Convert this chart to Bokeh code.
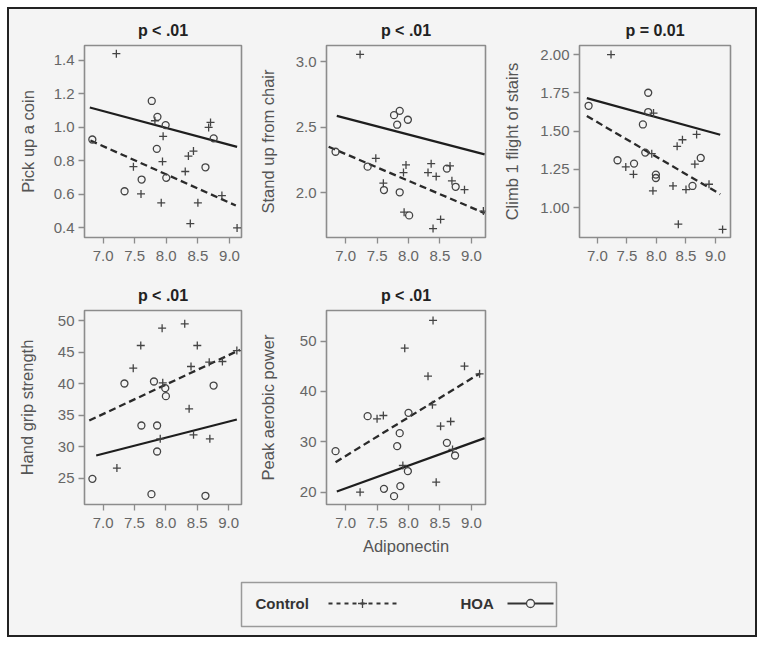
from bokeh.plotting import figure
from bokeh.layouts import row, column
from bokeh.models import Range1d, FixedTicker, Spacer, Title
from bokeh.core.properties import value
from bokeh.embed import file_html
from bokeh.resources import INLINE

FONT = "Liberation Sans"
BG = "#f4f4f4"

# ---------------- data ----------------
x_ticks = [7.0, 7.5, 8.0, 8.5, 9.0]

# Panel 1: Pick up a coin
p1_title = "p < .01"
p1_ylabel = "Pick up a coin"
p1_yticks = [0.4, 0.6, 0.8, 1.0, 1.2, 1.4]
p1_ctrl_x = [7.21, 8.70, 8.67, 7.95, 8.43, 8.35, 7.94, 7.48, 8.30, 7.60, 8.88, 7.92, 8.50, 8.38, 9.12, 7.82]
p1_ctrl_y = [1.44, 1.03, 1.00, 0.947, 0.859, 0.829, 0.796, 0.766, 0.737, 0.603, 0.593, 0.550, 0.550, 0.426, 0.40, 1.04]
p1_hoa_x = [6.83, 7.77, 7.86, 7.99, 7.85, 8.75, 8.62, 7.61, 8.00, 7.34]
p1_hoa_y = [0.928, 1.158, 1.063, 1.014, 0.872, 0.935, 0.762, 0.689, 0.699, 0.619]
p1_fit_hoa_x = [6.79, 9.12]
p1_fit_hoa_y = [1.119, 0.884]
p1_fit_ctrl_x = [6.80, 9.10]
p1_fit_ctrl_y = [0.922, 0.534]

# Panel 2: Stand up from chair
p2_title = "p < .01"
p2_ylabel = "Stand up from chair"
p2_yticks = [2.0, 2.5, 3.0]
p2_ctrl_x = [7.23, 7.48, 7.96, 7.92, 8.36, 8.31, 8.44, 8.66, 8.69, 8.89, 7.60, 7.93, 8.51, 8.39, 9.19]
p2_ctrl_y = [3.058, 2.263, 2.212, 2.154, 2.222, 2.154, 2.124, 2.205, 2.091, 2.023, 2.073, 1.851, 1.795, 1.725, 1.859]
p2_hoa_x = [6.84, 7.35, 7.77, 7.86, 7.82, 7.99, 7.61, 7.86, 8.01, 8.61, 8.75]
p2_hoa_y = [2.313, 2.199, 2.593, 2.626, 2.520, 2.558, 2.020, 2.003, 1.826, 2.184, 2.045]
p2_fit_hoa_x = [6.86, 9.21]
p2_fit_hoa_y = [2.588, 2.293]
p2_fit_ctrl_x = [6.73, 9.21]
p2_fit_ctrl_y = [2.351, 1.843]

# Panel 3: Climb 1 flight of stairs
p3_title = "p = 0.01"
p3_ylabel = "Climb 1 flight of stairs"
p3_yticks = [1.00, 1.25, 1.50, 1.75, 2.00]
p3_ctrl_x = [7.23, 7.95, 8.68, 8.44, 8.35, 7.92, 7.48, 7.61, 8.65, 8.28, 8.50, 8.89, 7.94, 8.37, 9.12]
p3_ctrl_y = [2.00, 1.617, 1.478, 1.443, 1.40, 1.352, 1.265, 1.217, 1.283, 1.141, 1.117, 1.152, 1.109, 0.891, 0.857]
p3_hoa_x = [6.85, 7.86, 7.86, 7.77, 7.81, 7.34, 7.62, 7.99, 7.99, 8.75, 8.61]
p3_hoa_y = [1.665, 1.75, 1.624, 1.543, 1.359, 1.309, 1.287, 1.215, 1.193, 1.324, 1.141]
p3_fit_hoa_x = [6.82, 9.08]
p3_fit_hoa_y = [1.715, 1.476]
p3_fit_ctrl_x = [6.82, 9.08]
p3_fit_ctrl_y = [1.598, 1.087]

# Panel 4: Hand grip strength
p4_title = "p < .01"
p4_ylabel = "Hand grip strength"
p4_yticks = [25, 30, 35, 40, 45, 50]
p4_ctrl_x = [8.30, 7.94, 7.60, 8.50, 7.48, 8.40, 8.69, 8.90, 9.13, 7.95, 8.37, 8.44, 8.70, 7.91, 7.22]
p4_ctrl_y = [49.47, 48.78, 46.04, 46.04, 42.44, 42.71, 43.39, 43.50, 45.24, 40.12, 35.99, 31.87, 31.24, 31.24, 26.59]
p4_hoa_x = [7.34, 7.81, 7.99, 8.00, 8.76, 7.61, 7.86, 7.86, 6.83, 7.77, 8.63]
p4_hoa_y = [40.01, 40.33, 39.27, 38.0, 39.69, 33.35, 33.35, 29.23, 24.89, 22.46, 22.20]
p4_fit_hoa_x = [6.89, 9.13]
p4_fit_hoa_y = [28.59, 34.30]
p4_fit_ctrl_x = [6.78, 9.18]
p4_fit_ctrl_y = [34.14, 45.35]

# Panel 5: Peak aerobic power
p5_title = "p < .01"
p5_ylabel = "Peak aerobic power"
p5_yticks = [20, 30, 40, 50]
p5_ctrl_x = [8.39, 7.94, 8.31, 8.89, 9.13, 7.50, 7.60, 8.51, 8.67, 8.38, 7.91, 8.44, 7.23, 8.70]
p5_ctrl_y = [54.11, 48.61, 43.05, 45.03, 43.51, 34.57, 35.23, 33.11, 34.04, 37.35, 25.30, 21.99, 20.0, 28.5]
p5_hoa_x = [6.84, 7.35, 8.00, 7.86, 7.82, 8.61, 8.74, 7.99, 7.87, 7.61, 7.77]
p5_hoa_y = [28.15, 35.10, 35.76, 31.72, 29.14, 29.80, 27.28, 24.17, 21.19, 20.66, 19.21]
p5_fit_hoa_x = [6.86, 9.21]
p5_fit_hoa_y = [20.13, 30.73]
p5_fit_ctrl_x = [6.84, 9.14]
p5_fit_ctrl_y = [25.96, 43.64]

x_label = "Adiponectin"
legend_labels = ["Control", "HOA"]

# ---------------- drawing ----------------
MARK = "#444444"


def panel(title, ylabel, yticks, yfmt, xr, yr, cx, cy, hx, hy, fhx, fhy, fcx, fcy,
          width, height, left, right, top, bottom, lab_standoff, xlabel=None):
    p = figure(width=width, height=height, output_backend="svg", toolbar_location=None,
               x_range=Range1d(*xr), y_range=Range1d(*yr),
               min_border_left=left, min_border_right=right,
               min_border_top=top, min_border_bottom=bottom)
    p.title = Title(text=title, align="center", vertical_align="top", text_font=FONT,
                    text_font_size="16px", text_font_style="bold", text_color="#222222",
                    standoff=10)
    p.background_fill_color = BG
    p.border_fill_color = BG
    p.outline_line_color = "#8c8c8c"
    p.outline_line_width = 1.6
    p.grid.visible = False
    for ax in (p.xaxis[0], p.yaxis[0]):
        ax.axis_line_color = None
        ax.major_tick_line_color = "#8c8c8c"
        ax.major_tick_line_width = 1.3
        ax.major_tick_in = 0
        ax.major_tick_out = 6
        ax.minor_tick_line_color = None
        ax.major_label_text_font = FONT
        ax.major_label_text_font_size = "15px"
        ax.major_label_text_color = "#666666"
        ax.axis_label_text_font = FONT
        ax.axis_label_text_font_size = "16.5px"
        ax.axis_label_text_font_style = "normal"
        ax.axis_label_text_color = "#555555"
    p.xaxis.ticker = FixedTicker(ticks=x_ticks)
    p.xaxis.major_label_overrides = {t: f"{t:.1f}" for t in x_ticks}
    p.xaxis.major_label_standoff = 7
    p.yaxis.ticker = FixedTicker(ticks=yticks)
    p.yaxis.major_label_overrides = {t: format(t, yfmt) for t in yticks}
    p.yaxis.major_label_standoff = 4
    p.yaxis.axis_label = ylabel
    p.yaxis.axis_label_standoff = lab_standoff
    if xlabel:
        p.xaxis.axis_label = xlabel
        p.xaxis.axis_label_standoff = 6

    p.line(fcx, fcy, line_color="#2a2a2a", line_width=2.3, line_dash="7 4")
    p.line(fhx, fhy, line_color="#1e1e1e", line_width=2.2)
    p.scatter(cx, cy, marker="cross", size=8, line_color=MARK, line_width=1.3)
    p.scatter(hx, hy, marker="circle", size=7, fill_color=None, line_color=MARK, line_width=1.3)
    return p


f1 = panel(p1_title, p1_ylabel, p1_yticks, ".1f", (6.706, 9.19), (0.343, 1.489),
           p1_ctrl_x, p1_ctrl_y, p1_hoa_x, p1_hoa_y, p1_fit_hoa_x, p1_fit_hoa_y,
           p1_fit_ctrl_x, p1_fit_ctrl_y, 241, 265, 75, 9, 36, 35, 14)
f2 = panel(p2_title, p2_ylabel, p2_yticks, ".1f", (6.696, 9.224), (1.657, 3.126),
           p2_ctrl_x, p2_ctrl_y, p2_hoa_x, p2_hoa_y, p2_fit_hoa_x, p2_fit_hoa_y,
           p2_fit_ctrl_x, p2_fit_ctrl_y, 250, 265, 76, 15, 36, 35, 16)
f3 = panel(p3_title, p3_ylabel, p3_yticks, ".2f", (6.696, 9.254), (0.804, 2.059),
           p3_ctrl_x, p3_ctrl_y, p3_hoa_x, p3_hoa_y, p3_fit_hoa_x, p3_fit_hoa_y,
           p3_fit_ctrl_x, p3_fit_ctrl_y, 255, 265, 78, 25, 36, 37, 16)
f4 = panel(p4_title, p4_ylabel, p4_yticks, "d", (6.704, 9.204), (20.82, 51.59),
           p4_ctrl_x, p4_ctrl_y, p4_hoa_x, p4_hoa_y, p4_fit_hoa_x, p4_fit_hoa_y,
           p4_fit_ctrl_x, p4_fit_ctrl_y, 241, 289, 75, 9, 36, 59, 19)
f5 = panel(p5_title, p5_ylabel, p5_yticks, "d", (6.696, 9.224), (17.55, 56.09),
           p5_ctrl_x, p5_ctrl_y, p5_hoa_x, p5_hoa_y, p5_fit_hoa_x, p5_fit_hoa_y,
           p5_fit_ctrl_x, p5_fit_ctrl_y, 250, 289, 76, 15, 36, 59, 20, xlabel=x_label)
sp = Spacer(width=255, height=289, styles={"background-color": BG})

# legend panel (pixel coordinate space)
LW, LH = 746, 72
lg = figure(width=LW, height=LH, output_backend="svg", toolbar_location=None,
            x_range=Range1d(0, LW), y_range=Range1d(0, LH), min_border=0,
            x_axis_type=None, y_axis_type=None)
lg.background_fill_color = BG
lg.border_fill_color = BG
lg.outline_line_color = None
lg.grid.visible = False
lg.quad(left=[232], right=[547], bottom=[9], top=[53], fill_color=BG,
        line_color="#9a9a9a", line_width=1.5)
lg.text(x=[246, 451], y=[32, 32], text=legend_labels, text_font=value(FONT),
        text_font_size="15px", text_font_style="bold", text_color="#333333",
        text_baseline="middle")
lg.line([319, 387], [32, 32], line_color="#333333", line_width=2, line_dash="4 4")
lg.scatter([353], [32], marker="cross", size=9, line_color="#444444", line_width=1.3)
lg.line([498, 544], [32, 32], line_color="#333333", line_width=2)
lg.scatter([521], [32], marker="circle", size=8, fill_color=BG, line_color="#444444", line_width=1.3)

layout = column(row(f1, f2, f3), row(f4, f5, sp), lg,
                styles={"border": "2px solid #222222", "background-color": BG,
                        "margin": "7px"})

open("out.html", "w").write(file_html(layout, INLINE))
